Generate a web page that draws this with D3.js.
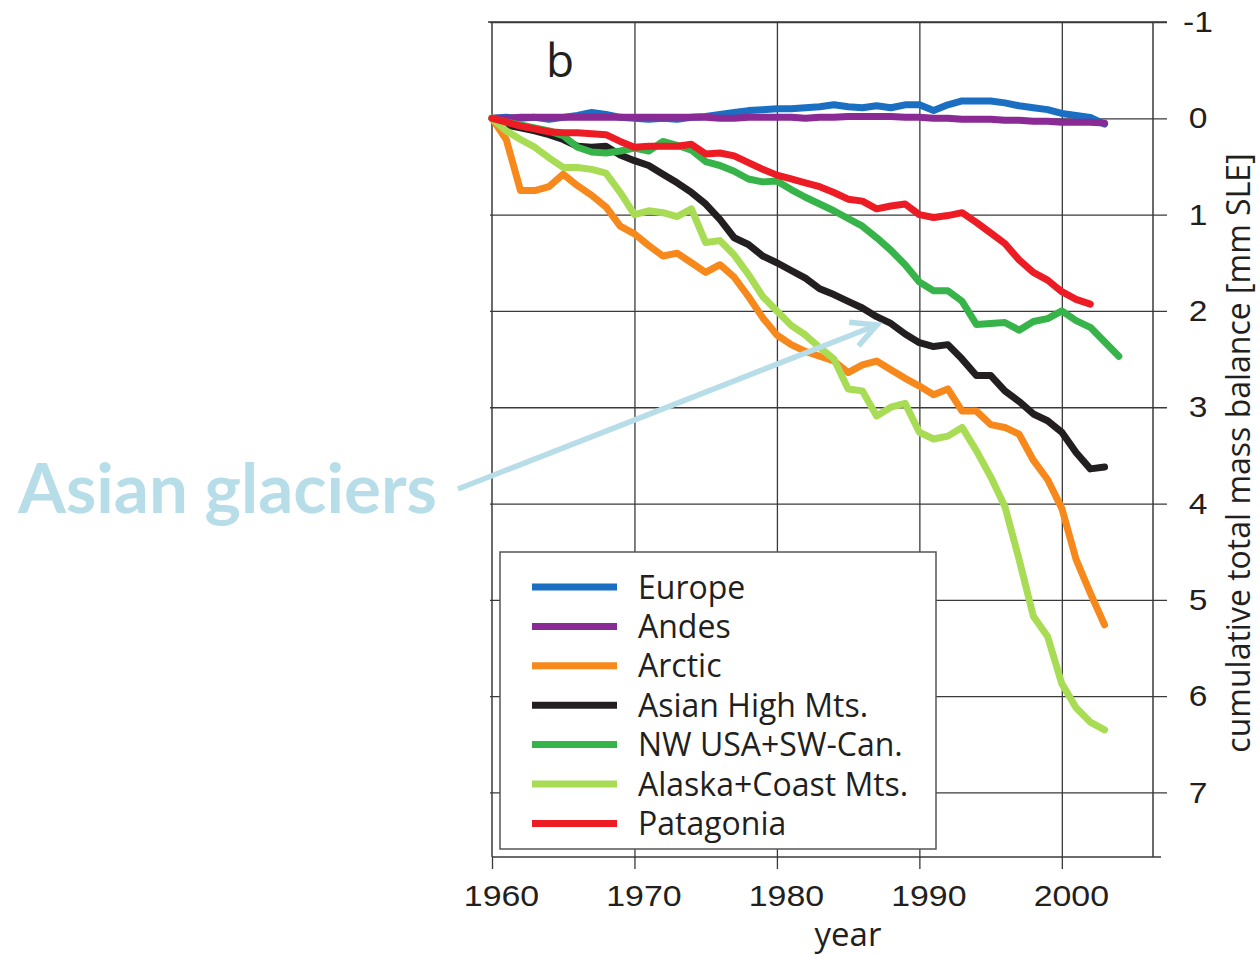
<!DOCTYPE html>
<html>
<head>
<meta charset="utf-8">
<script src="https://cdnjs.cloudflare.com/ajax/libs/d3/7.8.5/d3.min.js"></script>
<style>
  html, body { margin: 0; padding: 0; background: #ffffff; }
  svg { display: block; }
</style>
</head>
<body>
<svg id="chart" width="1260" height="955"></svg>
<script>
// Cumulative total glacier mass balance by region, 1960-2004 (mm sea-level equivalent)
const years = [1960,1961,1962,1963,1964,1965,1966,1967,1968,1969,
               1970,1971,1972,1973,1974,1975,1976,1977,1978,1979,
               1980,1981,1982,1983,1984,1985,1986,1987,1988,1989,
               1990,1991,1992,1993,1994,1995,1996,1997,1998,1999,
               2000,2001,2002,2003,2004];

const europe = [0,-0.01,0,-0.01,0.01,-0.01,-0.03,-0.06,-0.04,-0.01,
                0,0.01,0,0.01,-0.01,-0.02,-0.04,-0.06,-0.08,-0.09,
                -0.1,-0.1,-0.11,-0.12,-0.14,-0.12,-0.11,-0.13,-0.11,-0.14,
                -0.14,-0.08,-0.14,-0.18,-0.18,-0.18,-0.16,-0.13,-0.11,-0.09,
                -0.05,-0.03,-0.01,0.06];
const andes = [0,0,-0.01,-0.01,-0.01,-0.01,-0.01,-0.01,-0.01,-0.01,
               -0.01,-0.01,-0.01,-0.01,-0.01,-0.01,0,0,-0.01,-0.01,
               -0.01,-0.01,0,-0.01,-0.01,-0.02,-0.02,-0.02,-0.02,-0.01,
               -0.01,0,0,0.01,0.01,0.01,0.02,0.02,0.03,0.03,
               0.04,0.04,0.04,0.05];
const arctic = [0,0.22,0.75,0.75,0.71,0.58,0.7,0.8,0.92,1.12,
                1.2,1.32,1.43,1.4,1.5,1.6,1.52,1.65,1.85,2.07,
                2.25,2.35,2.42,2.47,2.52,2.64,2.56,2.52,2.61,2.7,
                2.78,2.87,2.81,3.04,3.04,3.18,3.21,3.28,3.55,3.75,
                4.05,4.58,4.93,5.26];
const asianHighMts = [0,0.07,0.1,0.13,0.17,0.22,0.29,0.3,0.29,0.38,
                      0.44,0.49,0.58,0.67,0.77,0.89,1.05,1.24,1.31,1.43,
                      1.5,1.58,1.66,1.77,1.83,1.9,1.97,2.06,2.13,2.24,
                      2.33,2.37,2.35,2.5,2.67,2.67,2.83,2.94,3.07,3.14,
                      3.26,3.47,3.64,3.62];
const nwUsaSwCan = [0,0.04,0.07,0.1,0.13,0.18,0.3,0.35,0.36,0.34,
                    0.31,0.34,0.24,0.28,0.33,0.45,0.49,0.55,0.63,0.66,
                    0.65,0.74,0.82,0.89,0.96,1.04,1.12,1.24,1.37,1.52,
                    1.7,1.79,1.79,1.9,2.14,2.13,2.12,2.2,2.11,2.08,
                    2.0,2.1,2.17,2.32,2.47];
const alaskaCoastMts = [0,0.13,0.22,0.3,0.41,0.51,0.51,0.53,0.57,0.77,
                        1.0,0.96,0.98,1.02,0.94,1.29,1.27,1.42,1.62,1.85,
                        2.0,2.15,2.25,2.38,2.5,2.81,2.83,3.09,3.0,2.96,
                        3.26,3.33,3.3,3.21,3.45,3.72,4.03,4.58,5.17,5.38,
                        5.87,6.12,6.27,6.35];
const patagonia = [0,0.04,0.08,0.11,0.14,0.15,0.15,0.16,0.17,0.24,
                   0.3,0.29,0.29,0.29,0.27,0.37,0.36,0.39,0.46,0.53,
                   0.59,0.63,0.67,0.71,0.77,0.84,0.86,0.94,0.91,0.89,
                   1.0,1.03,1.01,0.98,1.08,1.19,1.3,1.47,1.6,1.68,
                   1.8,1.88,1.93];

const regionNames = ["Europe", "Andes", "Arctic", "Asian High Mts.",
                     "NW USA+SW-Can.", "Alaska+Coast Mts.", "Patagonia"];
const regionValues = [europe, andes, arctic, asianHighMts,
                      nwUsaSwCan, alaskaCoastMts, patagonia];
const regionColors = ["#1a6fc2", "#8a2a95", "#f7891c", "#231f20",
                      "#36b44a", "#a8dc55", "#ed1c24"];

const yearTicks = [1960, 1970, 1980, 1990, 2000];
const balanceTicks = [-1, 0, 1, 2, 3, 4, 5, 6, 7];

const svg = d3.select("#chart");
const ink = "#231f20";
const gridColor = "#3a3a3a";
const numberFont = "'Liberation Sans', Arial, sans-serif";
const labelFont = "'Open Sans', sans-serif";

const x = d3.scaleLinear().domain([1960, 2006.4]).range([492, 1153]);
const y = d3.scaleLinear().domain([-1, 7.67]).range([22, 857]);
const [x0, x1] = x.range();
const [yTop, yBottom] = y.range();

// horizontal grid, one line per whole mm, running out past the right frame
svg.append("g")
  .attr("transform", `translate(${x0 - 2},0)`)
  .call(d3.axisLeft(y).tickValues(balanceTicks).tickSize(-(x1 - x0 + 16)).tickFormat(""))
  .call(g => g.select(".domain").remove())
  .call(g => g.selectAll("line").attr("stroke", gridColor).attr("stroke-width", 1.3));

// vertical grid per decade
svg.append("g")
  .attr("transform", `translate(0,${yBottom})`)
  .call(d3.axisBottom(x).tickValues(yearTicks.slice(1)).tickSize(-(yBottom - yTop)).tickFormat(""))
  .call(g => g.select(".domain").remove())
  .call(g => g.selectAll("line").attr("stroke", gridColor).attr("stroke-width", 1.3));

// frame
const frame = svg.append("g").attr("stroke", gridColor).attr("stroke-width", 1.5).attr("fill", "none");
frame.append("line").attr("x1", x0 - 4).attr("x2", x1 + 14).attr("y1", yTop).attr("y2", yTop);
frame.append("line").attr("x1", x0).attr("x2", x1 + 8).attr("y1", yBottom).attr("y2", yBottom);
frame.append("line").attr("x1", x0).attr("x2", x0).attr("y1", yTop).attr("y2", yBottom);
frame.append("line").attr("x1", x1).attr("x2", x1).attr("y1", yTop).attr("y2", yBottom);

// bottom year axis (numerals set slightly wide)
svg.append("g")
  .attr("transform", `translate(0,${yBottom})`)
  .call(d3.axisBottom(x).tickValues(yearTicks).tickSize(12).tickPadding(16).tickFormat(d3.format("d")))
  .call(g => g.select(".domain").remove())
  .call(g => g.selectAll("line").attr("stroke", gridColor).attr("stroke-width", 1.3))
  .call(g => g.selectAll("text")
      .attr("fill", ink)
      .attr("font-family", numberFont)
      .attr("font-size", 30)
      .attr("transform", "translate(9,0) scale(1.13,1)"));

// right balance axis
svg.append("g")
  .attr("transform", `translate(${x1},0)`)
  .call(d3.axisRight(y).tickValues(balanceTicks).tickSize(0).tickPadding(0).tickFormat(d => d))
  .call(g => g.select(".domain").remove())
  .call(g => g.selectAll("text")
      .attr("x", 0)
      .attr("fill", ink)
      .attr("text-anchor", "middle")
      .attr("font-family", numberFont)
      .attr("font-size", 30)
      .attr("transform", "translate(45,0) scale(1.12,1)"));

// axis titles
svg.append("text")
  .attr("x", 848).attr("y", 946)
  .attr("text-anchor", "middle")
  .attr("fill", ink)
  .attr("font-family", labelFont)
  .attr("font-size", 33)
  .text("year");

svg.append("text")
  .attr("transform", "translate(1250,453) rotate(-90)")
  .attr("text-anchor", "middle")
  .attr("fill", ink)
  .attr("font-family", labelFont)
  .attr("font-size", 32)
  .text("cumulative total mass balance [mm SLE]");

// panel letter
svg.append("text")
  .attr("x", 546).attr("y", 77)
  .attr("fill", ink)
  .attr("font-family", labelFont)
  .attr("font-size", 46)
  .text("b");

// regional curves
const line = d3.line()
  .x((d, i) => x(years[i]))
  .y(d => y(d));

svg.append("g")
  .selectAll("path")
  .data(regionValues)
  .join("path")
  .attr("d", line)
  .attr("fill", "none")
  .attr("stroke", (d, i) => regionColors[i])
  .attr("stroke-width", 7)
  .attr("stroke-linejoin", "round")
  .attr("stroke-linecap", "round");

// legend
const legend = svg.append("g").attr("transform", "translate(500,552)");
legend.append("rect")
  .attr("width", 436).attr("height", 297)
  .attr("fill", "#ffffff")
  .attr("stroke", "#555555")
  .attr("stroke-width", 1.5);
const rows = legend.selectAll("g.row")
  .data(regionNames)
  .join("g")
  .attr("class", "row")
  .attr("transform", (d, i) => `translate(0,${35 + i * 39.4})`);
rows.append("line")
  .attr("x1", 32).attr("x2", 117)
  .attr("stroke", (d, i) => regionColors[i])
  .attr("stroke-width", 7);
rows.append("text")
  .attr("x", 138).attr("dy", "0.36em")
  .attr("fill", ink)
  .attr("font-family", labelFont)
  .attr("font-size", 32)
  .text(d => d);

// callout
const calloutColor = "#b7dde8";
const label = svg.append("text")
  .attr("x", 18).attr("y", 513)
  .attr("fill", calloutColor)
  .attr("font-family", "Lato, 'Open Sans', sans-serif")
  .attr("font-weight", 700)
  .attr("font-size", 68)
  .text("Asian glaciers");
const w = label.node().getComputedTextLength();
label.attr("font-size", 68 * 419 / w);

const start = [458, 489], tip = [877, 325];
const ang = Math.atan2(start[1] - tip[1], start[0] - tip[0]);
const arm = 28, spread = 27 * Math.PI / 180;
const arrow = svg.append("g")
  .attr("stroke", calloutColor)
  .attr("stroke-width", 5.5)
  .attr("fill", "none")
  .attr("stroke-linecap", "butt");
arrow.append("line")
  .attr("x1", start[0]).attr("y1", start[1])
  .attr("x2", tip[0]).attr("y2", tip[1]);
arrow.append("path")
  .attr("stroke-linejoin", "miter")
  .attr("d", `M${tip[0] + arm * Math.cos(ang + spread)},${tip[1] + arm * Math.sin(ang + spread)}` +
             `L${tip[0]},${tip[1]}` +
             `L${tip[0] + arm * Math.cos(ang - spread)},${tip[1] + arm * Math.sin(ang - spread)}`);
</script>
</body>
</html>
